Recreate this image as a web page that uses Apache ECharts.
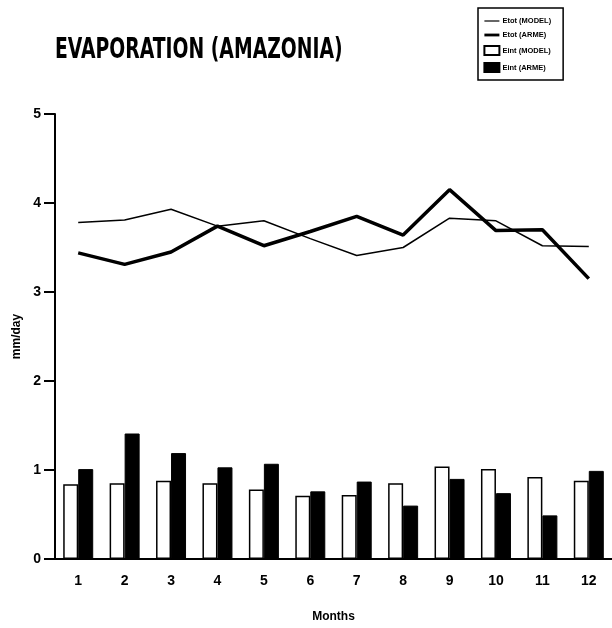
<!DOCTYPE html>
<html><head><meta charset="utf-8">
<script src="https://cdn.jsdelivr.net/npm/echarts@6/dist/echarts.min.js"></script>
<style>html,body{margin:0;padding:0;background:#fff}#c{width:612px;height:628px}</style>
</head><body><div id="c"></div>
<script>
const months = ['1','2','3','4','5','6','7','8','9','10','11','12'];
const etotModel = [3.78, 3.81, 3.93, 3.74, 3.80, 3.60, 3.41, 3.50, 3.83, 3.80, 3.52, 3.51];
const etotArme  = [3.44, 3.31, 3.45, 3.74, 3.52, 3.68, 3.85, 3.64, 4.15, 3.69, 3.70, 3.15];
const eintModel = [0.84, 0.85, 0.88, 0.85, 0.78, 0.71, 0.72, 0.85, 1.04, 1.01, 0.92, 0.88];
const eintArme  = [1.01, 1.41, 1.19, 1.03, 1.07, 0.76, 0.87, 0.60, 0.90, 0.74, 0.49, 0.99];
const yTicks = [0, 1, 2, 3, 4, 5];
const names = ['Etot (MODEL)', 'Etot (ARME)', 'Eint (MODEL)', 'Eint (ARME)'];

const chart = echarts.init(document.getElementById('c'));
const lblFont = 'Liberation Sans';
const noSym = { color: 'rgba(0,0,0,0)', borderWidth: 0 };
chart.setOption({
  animation: false,
  backgroundColor: '#fff',
  graphic: [{
    type: 'text', left: 55, top: 37, scaleX: 1.1, scaleY: 1.45,
    style: { text: 'EVAPORATION (AMAZONIA)', font: 'bold 19px "DejaVu Sans Condensed", "DejaVu Sans"', fill: '#000' }
  }],
  legend: {
    orient: 'vertical', left: 478, top: 8,
    data: [
      { name: names[0], itemStyle: noSym, lineStyle: { color: '#000', width: 1.2 } },
      { name: names[1], itemStyle: noSym, lineStyle: { color: '#000', width: 2.8 } },
      { name: names[2], icon: 'rect' }, { name: names[3], icon: 'rect' }
    ],
    borderColor: '#000', borderWidth: 1.5, padding: [9, 12, 7, 5],
    itemWidth: 15, itemHeight: 9, itemGap: 6,
    textStyle: { fontSize: 7.5, fontWeight: 'bold', fontFamily: lblFont, color: '#000', padding: [0, 0, 0, -2] }
  },
  grid: { left: 55, top: 114, width: 559, height: 445.5 },
  xAxis: {
    type: 'category', data: months, boundaryGap: true,
    name: 'Months', nameLocation: 'middle', nameGap: 52,
    nameTextStyle: { fontSize: 12, fontWeight: 'bold', fontFamily: lblFont, color: '#000' },
    axisLine: { lineStyle: { color: '#000', width: 2 } },
    axisTick: { alignWithLabel: true, length: 11, lineStyle: { color: '#000', width: 2 } },
    axisLabel: { fontSize: 14, fontWeight: 'bold', fontFamily: lblFont, color: '#000', margin: 15 },
    splitLine: { show: false }
  },
  yAxis: {
    type: 'value', min: 0, max: 5, interval: 1,
    name: 'mm/day', nameLocation: 'middle', nameGap: 30,
    nameTextStyle: { fontSize: 12, fontWeight: 'bold', fontFamily: lblFont, color: '#000' },
    axisLine: { show: true, lineStyle: { color: '#000', width: 2 } },
    axisTick: { show: true, length: 11, lineStyle: { color: '#000', width: 2 } },
    axisLabel: { fontSize: 14, fontWeight: 'bold', fontFamily: lblFont, color: '#000', margin: 14,
      formatter: v => yTicks.includes(v) ? String(v) : '' },
    splitLine: { show: false }
  },
  series: [
    { name: names[0], type: 'line', data: etotModel, symbol: 'none',
      lineStyle: { color: '#000', width: 1.5 }, itemStyle: { color: '#000' }, z: 3 },
    { name: names[1], type: 'line', data: etotArme, symbol: 'none',
      lineStyle: { color: '#000', width: 3.5 }, itemStyle: { color: '#000' }, z: 4 },
    { name: names[2], type: 'bar', data: eintModel, barWidth: 15, barGap: '0%',
      itemStyle: { color: '#fff', borderColor: '#000', borderWidth: 1.5 } },
    { name: names[3], type: 'bar', data: eintArme, barWidth: 15, barGap: '0%',
      itemStyle: { color: '#000', borderColor: '#000', borderWidth: 1 } }
  ]
});
</script></body></html>
